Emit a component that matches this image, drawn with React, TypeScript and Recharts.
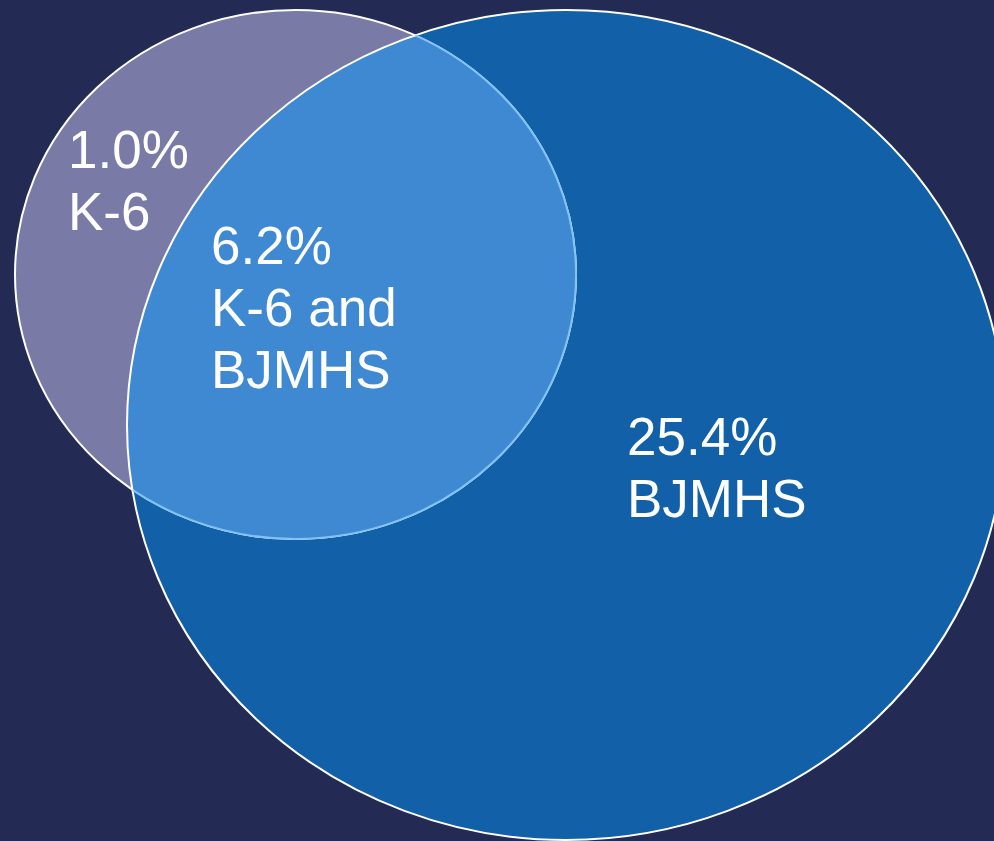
import React from "react";
import { ScatterChart, XAxis, YAxis, ReferenceArea, Scatter } from "recharts";

// ---- data ----
const setNames = ["K-6", "BJMHS"];
const regionValues = [1.0, 6.2, 25.4];
const regionNames = [["K-6"], ["K-6 and", "BJMHS"], ["BJMHS"]];

// ---- layout (data units == pixels on a 994x841 plane) ----
const W = 994;
const H = 841;
const setBoxes = [
  { x1: 15, x2: 576, y1: 10, y2: 539 },
  { x1: 127, x2: 1005, y1: 10, y2: 840 },
];
const labelAnchors = [
  { x: 68, y: 168 },
  { x: 211, y: 264 },
  { x: 627, y: 455 },
];

const BG = "#232a53";
const PURPLE = "#7a7aa6";
const BLUE = "#1260a8";
const OVERLAP = "#3f89d2";
const LIGHT_EDGE = "#80c2f6";
const FONT = "'Liberation Sans', Arial, sans-serif";
const FONT_SIZE = 53;
const LINE_H = 62;

const labelData = regionValues.map((v, i) => ({
  x: labelAnchors[i].x,
  y: labelAnchors[i].y,
  lines: [v.toFixed(1) + "%", ...regionNames[i]],
}));

type Box = { x: number; y: number; width: number; height: number };

const ell = (p: Box) => ({
  cx: p.x + p.width / 2,
  cy: p.y + p.height / 2,
  rx: Math.abs(p.width) / 2,
  ry: Math.abs(p.height) / 2,
});

const K6Shape = (p: any) => {
  const e = ell(p);
  return (
    <g>
      <defs>
        <clipPath id="clip-k6">
          <ellipse {...e} />
        </clipPath>
      </defs>
      <ellipse {...e} fill={PURPLE} stroke="#ffffff" strokeWidth={2} />
    </g>
  );
};

const BigShape = (p: any) => {
  const e = ell(p);
  return (
    <g>
      <defs>
        <clipPath id="clip-bjmhs">
          <ellipse {...e} />
        </clipPath>
      </defs>
      <ellipse {...e} fill={BLUE} stroke="#ffffff" strokeWidth={2} />
    </g>
  );
};

const OverlapShape = (p: any) => {
  const e = ell(p);
  return (
    <g>
      <ellipse {...e} fill={OVERLAP} stroke="none" clipPath="url(#clip-k6)" />
    </g>
  );
};

const K6EdgeInBig = (p: any) => {
  const e = ell(p);
  return <ellipse {...e} fill="none" stroke={LIGHT_EDGE} strokeWidth={2} clipPath="url(#clip-bjmhs)" />;
};

const BigEdgeInK6 = (p: any) => {
  const e = ell(p);
  return <ellipse {...e} fill="none" stroke="#ffffff" strokeWidth={2} clipPath="url(#clip-k6)" />;
};

const LabelShape = (p: any) => {
  const { cx, cy, payload } = p;
  return (
    <text x={cx} y={cy} fill="#ffffff" fontFamily={FONT} fontSize={FONT_SIZE}>
      {payload.lines.map((l: string, i: number) => (
        <tspan key={i} x={cx} dy={i === 0 ? 0 : LINE_H}>
          {l}
        </tspan>
      ))}
    </text>
  );
};

export default function App() {
  const [k6, big] = setBoxes;
  return (
    <div style={{ position: "fixed", left: 0, top: 0, width: W, height: H, background: BG }}>
      <ScatterChart width={W} height={H} margin={{ top: 0, right: 0, bottom: 0, left: 0 }}>
        <XAxis type="number" dataKey="x" domain={[0, W]} allowDataOverflow hide />
        <YAxis type="number" dataKey="y" domain={[0, H]} allowDataOverflow reversed hide />
        <ReferenceArea name={setNames[1]} x1={big.x1} x2={big.x2} y1={big.y1} y2={big.y2} ifOverflow="visible" shape={BigShape} />
        <ReferenceArea name={setNames[0]} x1={k6.x1} x2={k6.x2} y1={k6.y1} y2={k6.y2} ifOverflow="visible" shape={K6Shape} />
        <ReferenceArea x1={big.x1} x2={big.x2} y1={big.y1} y2={big.y2} ifOverflow="visible" shape={OverlapShape} />
        <ReferenceArea x1={k6.x1} x2={k6.x2} y1={k6.y1} y2={k6.y2} ifOverflow="visible" shape={K6EdgeInBig} />
        <ReferenceArea x1={big.x1} x2={big.x2} y1={big.y1} y2={big.y2} ifOverflow="visible" shape={BigEdgeInK6} />
        <Scatter data={labelData} isAnimationActive={false} shape={LabelShape} />
      </ScatterChart>
    </div>
  );
}
